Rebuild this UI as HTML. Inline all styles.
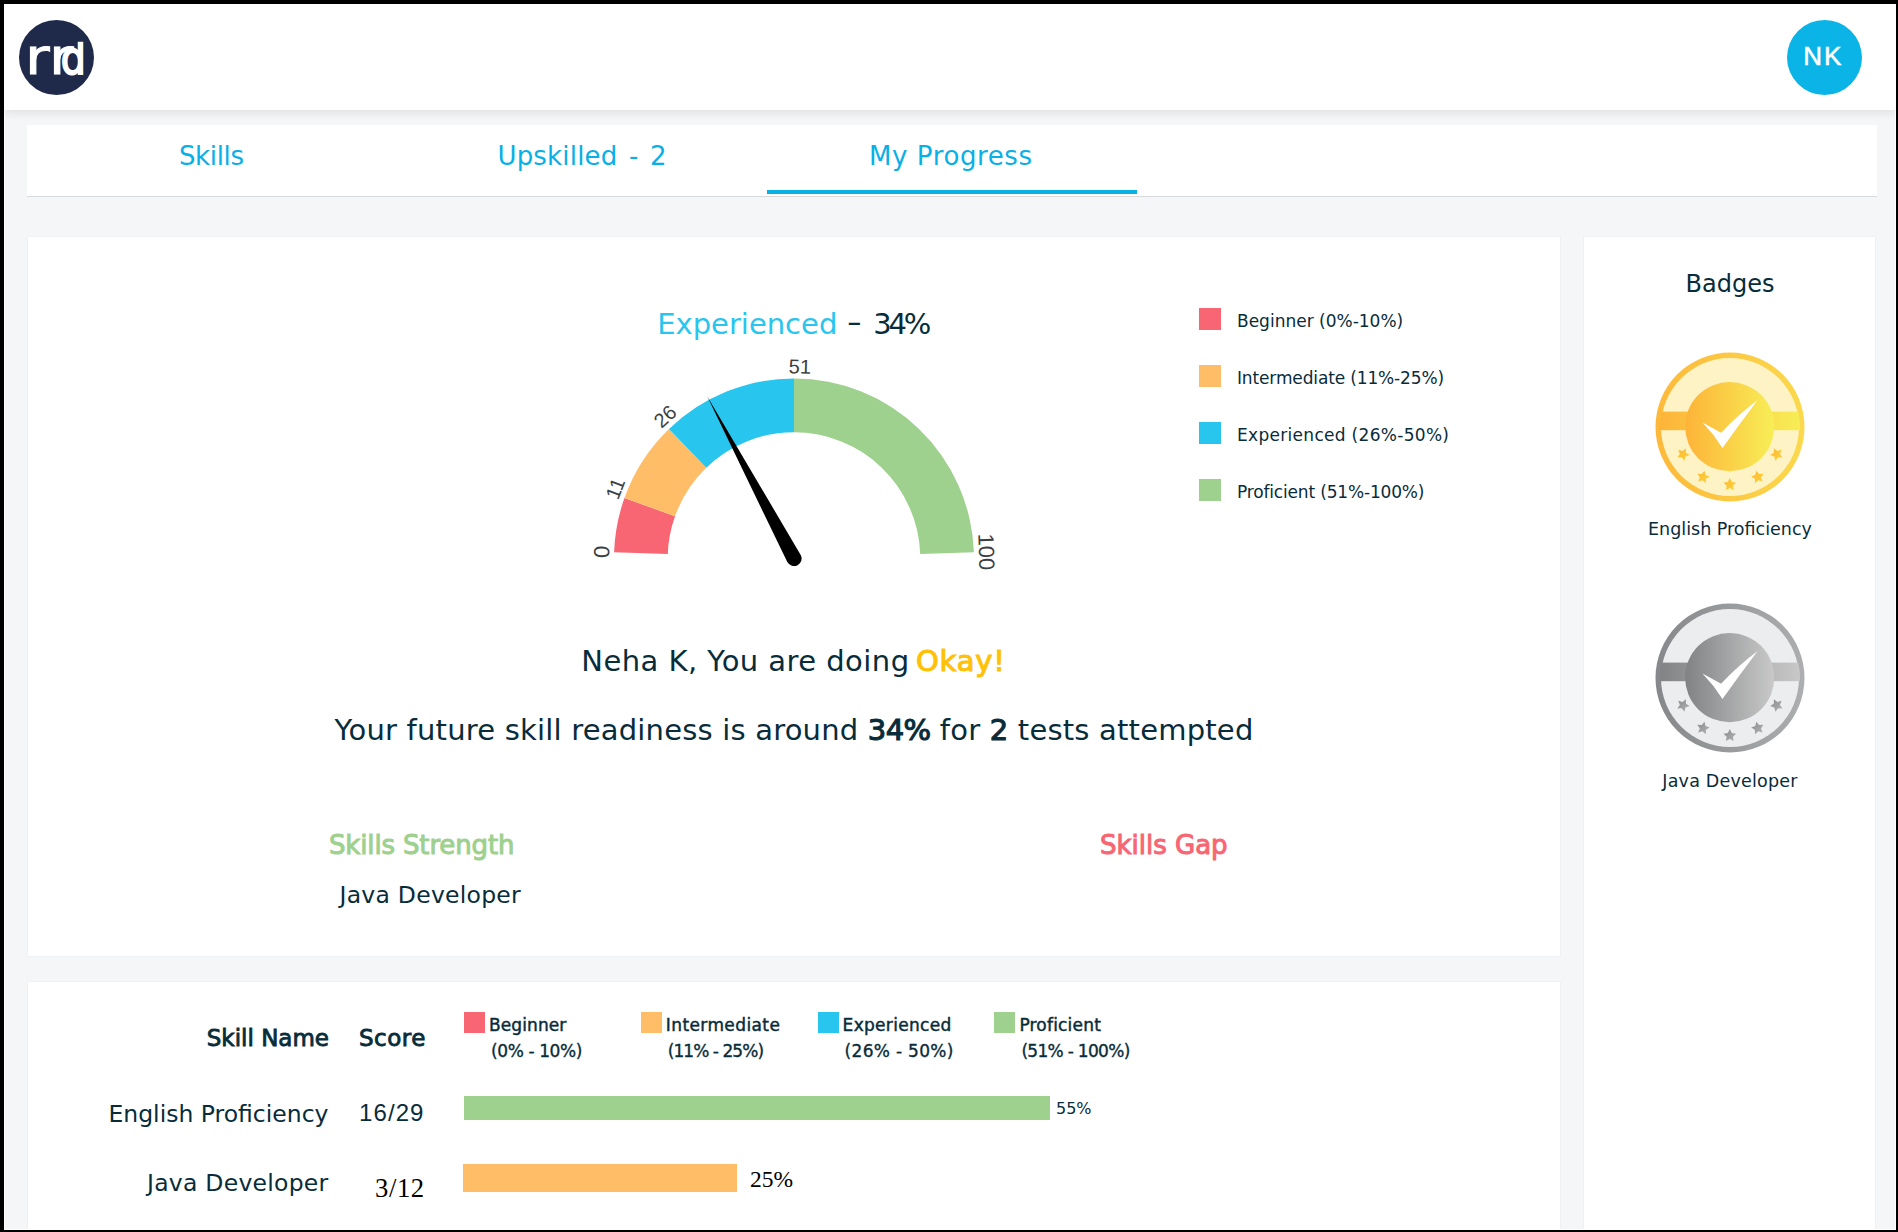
<!DOCTYPE html>
<html lang="en"><head><meta charset="utf-8"><title>My Progress</title>
<style>
html,body{margin:0;padding:0}
body{width:1898px;height:1232px;background:#000;position:relative;overflow:hidden;font-family:'DejaVu Sans', 'Liberation Sans', sans-serif}
</style></head><body>
<div style="position:absolute;left:4px;top:4px;width:1892px;height:1226px;background:#f5f6f8;box-sizing:border-box;border:1px solid #fff;"></div>
<div style="position:absolute;left:4px;top:4px;width:1892px;height:106px;background:#fff;box-shadow:0 3px 9px rgba(0,0,0,.09);"></div>
<div style="position:absolute;left:19px;top:20px;width:75px;height:75px;border-radius:50%;background:#1f2a4b;"></div>
<div aria-label="rrd" style="position:absolute;left:24.9px;top:18.24px;height:70px;line-height:70px;font-family:'DejaVu Sans', 'Liberation Sans', sans-serif;font-size:60px;color:#fff;white-space:nowrap"><span style="display:inline-block;-webkit-text-stroke:1px #fff;transform-origin:0 55.76px;transform:scaleY(.83)">r</span><span style="display:inline-block;-webkit-text-stroke:1px #fff;transform-origin:0 55.76px;transform:scaleY(.83);margin-left:-.47px">r</span><span style="display:inline-block;font-size:47px;margin-left:-17.77px;-webkit-text-stroke:2px #fff;transform:scaleX(.84);transform-origin:100% 50%;clip-path:inset(18.5px -5px 0 -5px)">d</span></div>
<div style="position:absolute;left:1787px;top:20px;width:75px;height:75px;border-radius:50%;background:#0ab4e6;"></div>
<div style="position:absolute;left:1785.7px;top:40.6px;width:75px;height:30px;line-height:30px;font-family:'Liberation Sans', 'DejaVu Sans', sans-serif;font-size:26px;font-weight:400;color:#fff;text-align:center;white-space:nowrap;letter-spacing:2px;-webkit-text-stroke:.55px #fff;">NK</div>
<div style="position:absolute;left:27px;top:125px;width:1850px;height:71px;background:#fff;border-bottom:1px solid #d8d9db;"></div>
<div style="position:absolute;left:26.32px;top:138px;width:370px;height:36px;line-height:36px;font-family:'DejaVu Sans', 'Liberation Sans', sans-serif;font-size:26px;font-weight:400;color:#09b0e6;text-align:center;white-space:nowrap;letter-spacing:-0.35px;word-spacing:0px;">Skills</div>
<div style="position:absolute;left:397.1px;top:138px;width:370px;height:36px;line-height:36px;font-family:'DejaVu Sans', 'Liberation Sans', sans-serif;font-size:26px;font-weight:400;color:#09b0e6;text-align:center;white-space:nowrap;letter-spacing:0.2px;word-spacing:3px;">Upskilled - 2</div>
<div style="position:absolute;left:765.8px;top:138px;width:370px;height:36px;line-height:36px;font-family:'DejaVu Sans', 'Liberation Sans', sans-serif;font-size:26px;font-weight:400;color:#09b0e6;text-align:center;white-space:nowrap;letter-spacing:0.6px;word-spacing:0px;">My Progress</div>
<div style="position:absolute;left:767px;top:190px;width:370px;height:4px;background:#09b0e6;"></div>
<div style="position:absolute;left:27px;top:236px;width:1534px;height:721px;background:#fff;box-sizing:border-box;border:1px solid #f0f1f3;"></div>
<div style="position:absolute;left:27px;top:981px;width:1534px;height:260px;background:#fff;box-sizing:border-box;border:1px solid #f0f1f3;"></div>
<div style="position:absolute;left:1583px;top:236px;width:293px;height:1000px;background:#fff;box-sizing:border-box;border:1px solid #f0f1f3;"></div>
<div style="position:absolute;left:657.2px;top:303.8px;width:600px;height:40px;line-height:40px;font-family:'DejaVu Sans', 'Liberation Sans', sans-serif;font-size:29px;font-weight:400;color:#082c3a;text-align:left;white-space:nowrap;"><span style="color:#28c6ee">Experienced</span> <span style="display:inline-block;transform:scaleX(1.45);margin:0 5px 0 2px;position:relative;top:-2px">-</span> <span style="letter-spacing:-3.2px">34%</span></div>
<div style="position:absolute;left:1199px;top:308px;width:22px;height:22px;background:#f76672;"></div>
<div style="position:absolute;left:1237px;top:308.7px;width:1200px;height:24px;line-height:24px;font-family:'DejaVu Sans', 'Liberation Sans', sans-serif;font-size:17px;font-weight:400;color:#082c3a;text-align:left;white-space:nowrap;letter-spacing:0px;">Beginner (0%-10%)</div>
<div style="position:absolute;left:1199px;top:365px;width:22px;height:22px;background:#febd66;"></div>
<div style="position:absolute;left:1237px;top:365.7px;width:1200px;height:24px;line-height:24px;font-family:'DejaVu Sans', 'Liberation Sans', sans-serif;font-size:17px;font-weight:400;color:#082c3a;text-align:left;white-space:nowrap;letter-spacing:-0.14px;">Intermediate (11%-25%)</div>
<div style="position:absolute;left:1199px;top:422px;width:22px;height:22px;background:#28c6ee;"></div>
<div style="position:absolute;left:1237px;top:422.7px;width:1200px;height:24px;line-height:24px;font-family:'DejaVu Sans', 'Liberation Sans', sans-serif;font-size:17px;font-weight:400;color:#082c3a;text-align:left;white-space:nowrap;letter-spacing:0.3px;">Experienced (26%-50%)</div>
<div style="position:absolute;left:1199px;top:479px;width:22px;height:22px;background:#9ed08e;"></div>
<div style="position:absolute;left:1237px;top:479.7px;width:1200px;height:24px;line-height:24px;font-family:'DejaVu Sans', 'Liberation Sans', sans-serif;font-size:17px;font-weight:400;color:#082c3a;text-align:left;white-space:nowrap;letter-spacing:-0.17px;">Proficient (51%-100%)</div>
<div style="position:absolute;left:343.5px;top:641px;width:900px;height:40px;line-height:40px;font-family:'DejaVu Sans', 'Liberation Sans', sans-serif;font-size:29px;font-weight:400;color:#082c3a;text-align:center;white-space:nowrap;letter-spacing:.45px;">Neha K, You are doing <span style="color:#ffc107;-webkit-text-stroke:1.1px #ffc107;letter-spacing:.8px;margin-left:-3.2px">Okay!</span></div>
<div style="position:absolute;left:194.0px;top:710px;width:1200px;height:40px;line-height:40px;font-family:'DejaVu Sans', 'Liberation Sans', sans-serif;font-size:29px;font-weight:400;color:#082c3a;text-align:center;white-space:nowrap;letter-spacing:.2px;">Your future skill readiness is around <span style="-webkit-text-stroke:1.1px #082c3a;letter-spacing:-.6px">34%</span> for <span style="-webkit-text-stroke:1.1px #082c3a">2</span> tests attempted</div>
<div style="position:absolute;left:329px;top:826.8px;width:1200px;height:36px;line-height:36px;font-family:'DejaVu Sans', 'Liberation Sans', sans-serif;font-size:26px;font-weight:400;color:#9ed08e;text-align:left;white-space:nowrap;letter-spacing:-.15px;-webkit-text-stroke:1px #9ed08e;">Skills Strength</div>
<div style="position:absolute;left:339.5px;top:879.1px;width:1200px;height:32px;line-height:32px;font-family:'DejaVu Sans', 'Liberation Sans', sans-serif;font-size:23.5px;font-weight:400;color:#082c3a;text-align:left;white-space:nowrap;letter-spacing:.25px;">Java Developer</div>
<div style="position:absolute;left:1100px;top:826.8px;width:1200px;height:36px;line-height:36px;font-family:'DejaVu Sans', 'Liberation Sans', sans-serif;font-size:26px;font-weight:400;color:#f76672;text-align:left;white-space:nowrap;-webkit-text-stroke:1px #f76672;">Skills Gap</div>
<div style="position:absolute;left:29px;top:1022px;width:300px;height:32px;line-height:32px;font-family:'DejaVu Sans', 'Liberation Sans', sans-serif;font-size:23px;font-weight:400;color:#082c3a;text-align:right;white-space:nowrap;-webkit-text-stroke:.85px #082c3a;">Skill Name</div>
<div style="position:absolute;left:359px;top:1022px;width:1200px;height:32px;line-height:32px;font-family:'DejaVu Sans', 'Liberation Sans', sans-serif;font-size:23px;font-weight:400;color:#082c3a;text-align:left;white-space:nowrap;letter-spacing:.5px;-webkit-text-stroke:.85px #082c3a;">Score</div>
<div style="position:absolute;left:464.0px;top:1012px;width:21px;height:21px;background:#f76672;"></div>
<div style="position:absolute;left:489.0px;top:1012.8px;width:1200px;height:24px;line-height:24px;font-family:'DejaVu Sans', 'Liberation Sans', sans-serif;font-size:17px;font-weight:400;color:#082c3a;text-align:left;white-space:nowrap;-webkit-text-stroke:.45px #082c3a;letter-spacing:0.1px;">Beginner</div>
<div style="position:absolute;left:491.0px;top:1039px;width:1200px;height:24px;line-height:24px;font-family:'DejaVu Sans', 'Liberation Sans', sans-serif;font-size:17px;font-weight:400;color:#082c3a;text-align:left;white-space:nowrap;-webkit-text-stroke:.35px #082c3a;letter-spacing:-0.4px;">(0% - 10%)</div>
<div style="position:absolute;left:640.8px;top:1012px;width:21px;height:21px;background:#febd66;"></div>
<div style="position:absolute;left:665.8px;top:1012.8px;width:1200px;height:24px;line-height:24px;font-family:'DejaVu Sans', 'Liberation Sans', sans-serif;font-size:17px;font-weight:400;color:#082c3a;text-align:left;white-space:nowrap;-webkit-text-stroke:.45px #082c3a;letter-spacing:0.4px;">Intermediate</div>
<div style="position:absolute;left:667.8px;top:1039px;width:1200px;height:24px;line-height:24px;font-family:'DejaVu Sans', 'Liberation Sans', sans-serif;font-size:17px;font-weight:400;color:#082c3a;text-align:left;white-space:nowrap;-webkit-text-stroke:.35px #082c3a;letter-spacing:-0.95px;">(11% - 25%)</div>
<div style="position:absolute;left:817.6px;top:1012px;width:21px;height:21px;background:#28c6ee;"></div>
<div style="position:absolute;left:842.6px;top:1012.8px;width:1200px;height:24px;line-height:24px;font-family:'DejaVu Sans', 'Liberation Sans', sans-serif;font-size:17px;font-weight:400;color:#082c3a;text-align:left;white-space:nowrap;-webkit-text-stroke:.45px #082c3a;letter-spacing:0.3px;">Experienced</div>
<div style="position:absolute;left:844.6px;top:1039px;width:1200px;height:24px;line-height:24px;font-family:'DejaVu Sans', 'Liberation Sans', sans-serif;font-size:17px;font-weight:400;color:#082c3a;text-align:left;white-space:nowrap;-webkit-text-stroke:.35px #082c3a;letter-spacing:0.3px;">(26% - 50%)</div>
<div style="position:absolute;left:994.4px;top:1012px;width:21px;height:21px;background:#9ed08e;"></div>
<div style="position:absolute;left:1019.4px;top:1012.8px;width:1200px;height:24px;line-height:24px;font-family:'DejaVu Sans', 'Liberation Sans', sans-serif;font-size:17px;font-weight:400;color:#082c3a;text-align:left;white-space:nowrap;-webkit-text-stroke:.45px #082c3a;letter-spacing:0.2px;">Proficient</div>
<div style="position:absolute;left:1021.4px;top:1039px;width:1200px;height:24px;line-height:24px;font-family:'DejaVu Sans', 'Liberation Sans', sans-serif;font-size:17px;font-weight:400;color:#082c3a;text-align:left;white-space:nowrap;-webkit-text-stroke:.35px #082c3a;letter-spacing:-0.7px;">(51% - 100%)</div>
<div style="position:absolute;left:-71.5px;top:1097.5px;width:400px;height:32px;line-height:32px;font-family:'DejaVu Sans', 'Liberation Sans', sans-serif;font-size:23.5px;font-weight:400;color:#082c3a;text-align:right;white-space:nowrap;">English Proficiency</div>
<div style="position:absolute;left:359px;top:1097px;width:1200px;height:32px;line-height:32px;font-family:'Liberation Sans', 'DejaVu Sans', sans-serif;font-size:24px;font-weight:400;color:#082c3a;text-align:left;white-space:nowrap;letter-spacing:1.1px;">16/29</div>
<div style="position:absolute;left:464px;top:1096px;width:586px;height:24px;background:#9ed08e;"></div>
<div style="position:absolute;left:1056px;top:1098px;width:1200px;height:22px;line-height:22px;font-family:'DejaVu Sans', 'Liberation Sans', sans-serif;font-size:16px;font-weight:400;color:#082c3a;text-align:left;white-space:nowrap;">55%</div>
<div style="position:absolute;left:-71.5px;top:1167px;width:400px;height:32px;line-height:32px;font-family:'DejaVu Sans', 'Liberation Sans', sans-serif;font-size:23.5px;font-weight:400;color:#082c3a;text-align:right;white-space:nowrap;letter-spacing:.25px;">Java Developer</div>
<div style="position:absolute;left:375px;top:1172px;width:1200px;height:32px;line-height:32px;font-family:'Liberation Serif', 'DejaVu Serif', serif;font-size:26.67px;font-weight:400;color:#000;text-align:left;white-space:nowrap;letter-spacing:.6px;">3/12</div>
<div style="position:absolute;left:463px;top:1164px;width:274px;height:27.5px;background:#febd66;"></div>
<div style="position:absolute;left:750px;top:1164px;width:1200px;height:30px;line-height:30px;font-family:'Liberation Serif', 'DejaVu Serif', serif;font-size:23.5px;font-weight:400;color:#000;text-align:left;white-space:nowrap;">25%</div>
<div style="position:absolute;left:1584.5px;top:266.9px;width:291px;height:34px;line-height:34px;font-family:'DejaVu Sans', 'Liberation Sans', sans-serif;font-size:24px;font-weight:400;color:#082c3a;text-align:center;white-space:nowrap;">Badges</div>
<div style="position:absolute;left:1584.5px;top:516px;width:291px;height:26px;line-height:26px;font-family:'DejaVu Sans', 'Liberation Sans', sans-serif;font-size:17.5px;font-weight:400;color:#082c3a;text-align:center;white-space:nowrap;">English Proficiency</div>
<div style="position:absolute;left:1584.5px;top:768px;width:291px;height:26px;line-height:26px;font-family:'DejaVu Sans', 'Liberation Sans', sans-serif;font-size:17.5px;font-weight:400;color:#082c3a;text-align:center;white-space:nowrap;letter-spacing:.2px;">Java Developer</div>
<svg width="1898" height="1232" viewBox="0 0 1898 1232" style="position:absolute;left:0;top:0;overflow:visible">
<path d="M614.11 552.22 A180 180 0 0 1 624.43 498.12 L675.02 516.13 A126.3 126.3 0 0 0 667.78 554.09 Z" fill="#f76672"/>
<path d="M624.43 498.12 A180 180 0 0 1 668.96 429.02 L706.26 467.65 A126.3 126.3 0 0 0 675.02 516.13 Z" fill="#febd66"/>
<path d="M668.96 429.02 A180 180 0 0 1 794.00 378.50 L794.00 432.20 A126.3 126.3 0 0 0 706.26 467.65 Z" fill="#28c6ee"/>
<path d="M794.00 378.50 A180 180 0 0 1 973.89 552.22 L920.22 554.09 A126.3 126.3 0 0 0 794.00 432.20 Z" fill="#9ed08e"/>
<text transform="translate(794 558.5) rotate(-88.00)" x="0" y="-185" text-anchor="middle" font-family="'Liberation Sans', 'DejaVu Sans', sans-serif" font-size="22" fill="#3c3f43">0</text>
<text transform="translate(794 558.5) rotate(-68.64)" x="0" y="-185" text-anchor="middle" font-family="'Liberation Sans', 'DejaVu Sans', sans-serif" font-size="20" fill="#3c3f43">11</text>
<text transform="translate(794 558.5) rotate(-42.24)" x="0" y="-185" text-anchor="middle" font-family="'Liberation Sans', 'DejaVu Sans', sans-serif" font-size="20" fill="#3c3f43">26</text>
<text transform="translate(794 558.5) rotate(1.76)" x="0" y="-185" text-anchor="middle" font-family="'Liberation Sans', 'DejaVu Sans', sans-serif" font-size="20" fill="#3c3f43">51</text>
<text transform="translate(794 558.5) rotate(88.00)" x="0" y="-185" text-anchor="middle" font-family="'Liberation Sans', 'DejaVu Sans', sans-serif" font-size="22" fill="#3c3f43">100</text>
<path d="M707.16 396.28 L800.70 554.91 A7.6 7.6 0 0 1 787.30 562.09 Z" fill="#000"/>
</svg>
<svg width="160" height="160" viewBox="-80 -80 160 160" style="position:absolute;left:1650.3px;top:346.5px"><defs><linearGradient id="ga" x1="0" x2="1" y1="0" y2="0"><stop offset="0" stop-color="#fdb338"/><stop offset="1" stop-color="#f7ee56"/></linearGradient><linearGradient id="gb" x1="0" x2="1" y1="0" y2="0"><stop offset="0" stop-color="#fdb83a"/><stop offset="1" stop-color="#fbd94c"/></linearGradient><linearGradient id="gc" x1="0" x2="1" y1="0" y2="1"><stop offset="0" stop-color="#fdb92f"/><stop offset="1" stop-color="#fdd23c"/></linearGradient><clipPath id="gk"><circle r="70"/></clipPath></defs><circle r="74.5" fill="url(#gb)"/><circle r="69" fill="#fef3c4"/><rect x="-72" y="-15.4" width="144" height="18.6" fill="url(#ga)" clip-path="url(#gk)"/><circle cx="-.3" cy="-.4" r="44.6" fill="url(#ga)"/><path d="M-27.5 -4.4 L-8.9 5.7 Q9 -13 27.7 -26.9 Q10 -3.5 -7.5 20.9 Q-16.5 7 -27.5 -4.4Z" fill="#fff"/><polygon points="-44.11,21.32 -44.01,25.70 -40.35,28.10 -44.49,29.55 -45.64,33.78 -48.29,30.29 -52.67,30.50 -50.18,26.90 -51.73,22.80 -47.53,24.06" fill="url(#gc)"/><polygon points="-25.53,43.64 -24.45,47.89 -20.34,49.41 -24.04,51.75 -24.22,56.13 -27.59,53.33 -31.80,54.52 -30.18,50.44 -32.62,46.80 -28.24,47.09" fill="url(#gc)"/><polygon points="-0.20,51.10 1.74,55.03 6.08,55.66 2.94,58.72 3.68,63.04 -0.20,61.00 -4.08,63.04 -3.34,58.72 -6.48,55.66 -2.14,55.03" fill="url(#gc)"/><polygon points="26.33,43.64 29.04,47.09 33.42,46.80 30.98,50.44 32.60,54.52 28.39,53.33 25.02,56.13 24.84,51.75 21.14,49.41 25.25,47.89" fill="url(#gc)"/><polygon points="43.91,21.32 47.33,24.06 51.53,22.80 49.98,26.90 52.47,30.50 48.09,30.29 45.44,33.78 44.29,29.55 40.15,28.10 43.81,25.70" fill="url(#gc)"/></svg>
<svg width="160" height="160" viewBox="-80 -80 160 160" style="position:absolute;left:1650.2px;top:598.4px"><defs><linearGradient id="sa" x1="0" x2="1" y1="0" y2="0"><stop offset="0" stop-color="#808284"/><stop offset="1" stop-color="#c9c9c9"/></linearGradient><linearGradient id="sb" x1="0" x2="1" y1="0" y2="0"><stop offset="0" stop-color="#86878a"/><stop offset="1" stop-color="#adaeaf"/></linearGradient><linearGradient id="sc" x1="0" x2="1" y1="0" y2="1"><stop offset="0" stop-color="#8a8b8d"/><stop offset="1" stop-color="#b3b3b3"/></linearGradient><clipPath id="sk"><circle r="70"/></clipPath></defs><circle r="74.5" fill="url(#sb)"/><circle r="69" fill="#ecedef"/><rect x="-72" y="-15.4" width="144" height="18.6" fill="url(#sa)" clip-path="url(#sk)"/><circle cx="-.3" cy="-.4" r="44.6" fill="url(#sa)"/><path d="M-27.5 -4.4 L-8.9 5.7 Q9 -13 27.7 -26.9 Q10 -3.5 -7.5 20.9 Q-16.5 7 -27.5 -4.4Z" fill="#fff"/><polygon points="-44.11,21.32 -44.01,25.70 -40.35,28.10 -44.49,29.55 -45.64,33.78 -48.29,30.29 -52.67,30.50 -50.18,26.90 -51.73,22.80 -47.53,24.06" fill="url(#sc)"/><polygon points="-25.53,43.64 -24.45,47.89 -20.34,49.41 -24.04,51.75 -24.22,56.13 -27.59,53.33 -31.80,54.52 -30.18,50.44 -32.62,46.80 -28.24,47.09" fill="url(#sc)"/><polygon points="-0.20,51.10 1.74,55.03 6.08,55.66 2.94,58.72 3.68,63.04 -0.20,61.00 -4.08,63.04 -3.34,58.72 -6.48,55.66 -2.14,55.03" fill="url(#sc)"/><polygon points="26.33,43.64 29.04,47.09 33.42,46.80 30.98,50.44 32.60,54.52 28.39,53.33 25.02,56.13 24.84,51.75 21.14,49.41 25.25,47.89" fill="url(#sc)"/><polygon points="43.91,21.32 47.33,24.06 51.53,22.80 49.98,26.90 52.47,30.50 48.09,30.29 45.44,33.78 44.29,29.55 40.15,28.10 43.81,25.70" fill="url(#sc)"/></svg>
<div style="position:absolute;left:0;top:1230px;width:1898px;height:2px;background:#000"></div>
<div style="position:absolute;left:4px;top:1229px;width:1892px;height:1px;background:#fff"></div>
<div style="position:absolute;left:1896px;top:0;width:2px;height:1232px;background:#000"></div>
<div style="position:absolute;left:1895px;top:4px;width:1px;height:1226px;background:#fff"></div>
</body></html>
